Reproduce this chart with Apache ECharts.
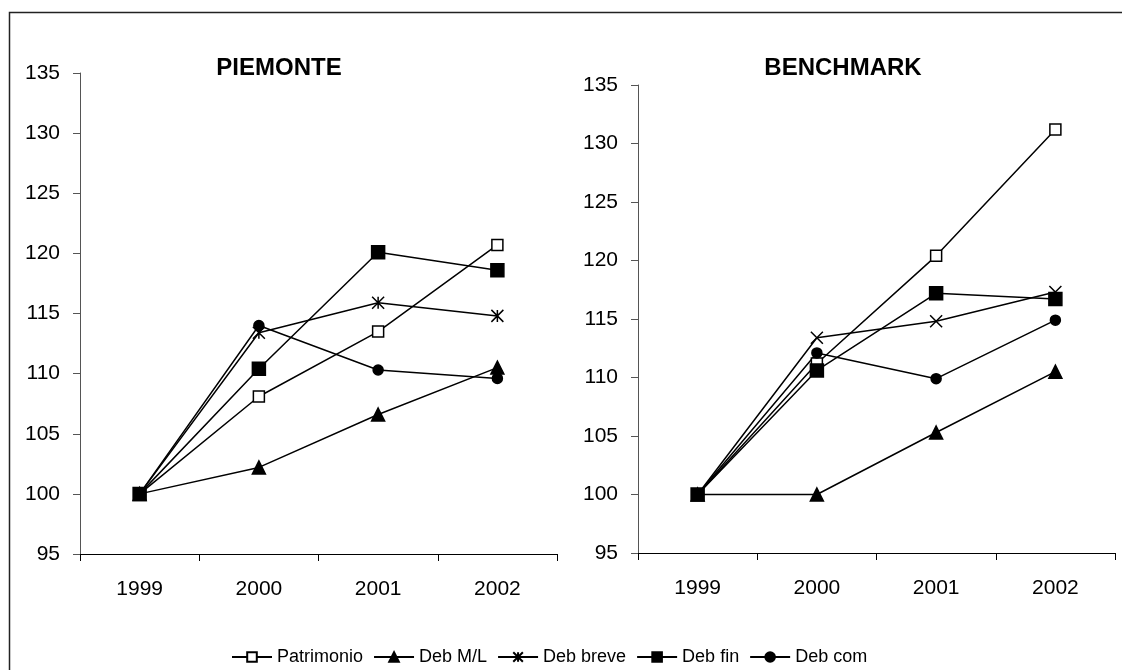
<!DOCTYPE html>
<html>
<head>
<meta charset="utf-8">
<title>Piemonte vs Benchmark</title>
<script src="https://cdn.jsdelivr.net/npm/echarts@6/dist/echarts.min.js"></script>
<style>
  html, body { margin: 0; padding: 0; background: #fff; }
  #chart { width: 1122px; height: 670px; }
</style>
</head>
<body>
<div id="chart"></div>
<script>
// Categories and tick values
const years = ['1999', '2000', '2001', '2002'];
const yTicks = { min: 95, max: 135, step: 5 };

// PIEMONTE (index 1999 = 100)
const piePatrimonio = [100, 108.1, 113.5, 120.7];
const pieDebML      = [100, 102.2, 106.6, 110.5];
const pieDebBreve   = [100, 113.4, 115.9, 114.8];
const pieDebFin     = [100, 110.4, 120.1, 118.6];
const pieDebCom     = [100, 114.0, 110.3, 109.6];

// BENCHMARK (index 1999 = 100)
const benPatrimonio = [100, 111.2, 120.4, 131.2];
const benDebML      = [100, 100.0, 105.3, 110.5];
const benDebBreve   = [100, 113.4, 114.8, 117.3];
const benDebFin     = [100, 110.6, 117.2, 116.7];
const benDebCom     = [100, 112.1, 109.9, 114.9];

const FONT = 'Liberation Sans, Arial, sans-serif';
const ASTERISK = 'path://M0,0L10,10M10,0L0,10M5,0L5,10';
const CROSS = 'path://M0,0L10,10M10,0L0,10';

// marker style per series
const markers = {
  'Patrimonio': { symbol: 'rect', symbolSize: 11, fill: '#fff' },
  'Deb M/L':    { symbol: 'triangle', symbolSize: 13, fill: '#000' },
  'Deb breve':  { symbol: ASTERISK, symbolSize: 12, fill: '#000' },
  'Deb fin':    { symbol: 'rect', symbolSize: 13, fill: '#000' },
  'Deb com':    { symbol: 'circle', symbolSize: 10, fill: '#000' }
};

function makeSeries(name, data, idx, overrideSymbol) {
  const m = markers[name];
  return {
    name: name,
    type: 'line',
    xAxisIndex: idx,
    yAxisIndex: idx,
    data: data,
    symbol: overrideSymbol || m.symbol,
    symbolSize: m.symbolSize,
    showAllSymbol: true,
    lineStyle: { color: '#000', width: 1.5 },
    itemStyle: { color: m.fill, borderColor: '#000', borderWidth: 1.5 },
    emphasis: { disabled: true },
    animation: false
  };
}

function xAxis(idx) {
  return {
    type: 'category',
    gridIndex: idx,
    data: years,
    boundaryGap: true,
    axisLine: { lineStyle: { color: '#000', width: 1 } },
    axisTick: { show: true, length: 7, lineStyle: { color: '#000' } },
    axisLabel: { color: '#000', fontFamily: FONT, fontSize: 21, margin: 25 }
  };
}

function yAxis(idx) {
  return {
    type: 'value',
    gridIndex: idx,
    min: yTicks.min,
    max: yTicks.max,
    interval: yTicks.step,
    axisLine: { show: true, lineStyle: { color: '#555', width: 1 } },
    axisTick: { show: true, length: 7, lineStyle: { color: '#555' } },
    splitLine: { show: false },
    axisLabel: { color: '#000', fontFamily: FONT, fontSize: 21, margin: 20 }
  };
}

const chart = echarts.init(document.getElementById('chart'), null, { renderer: 'canvas' });

const option = {
  backgroundColor: '#fff',
  animation: false,
  grid: [
    { left: 80, top: 73, width: 477, height: 481 },
    { left: 638, top: 85, width: 477, height: 468 }
  ],
  xAxis: [xAxis(0), xAxis(1)],
  yAxis: [yAxis(0), yAxis(1)],
  legend: {
    data: ['Patrimonio', 'Deb M/L', 'Deb breve', 'Deb fin', 'Deb com'],
    left: 226,
    top: 643,
    itemWidth: 40,
    itemHeight: 12,
    itemGap: 10,
    selectedMode: false,
    textStyle: { color: '#000', fontFamily: FONT, fontSize: 18 }
  },
  graphic: [
    {
      type: 'rect', silent: true, z: -1,
      shape: { x: 9.5, y: 12.5, width: 1200, height: 700 },
      style: { fill: 'none', stroke: '#222', lineWidth: 1.5 }
    },
    {
      type: 'text', x: 279, y: 56,
      style: { text: 'PIEMONTE', fill: '#000', font: 'bold 24px ' + FONT, textAlign: 'center' }
    },
    {
      type: 'text', x: 843, y: 56,
      style: { text: 'BENCHMARK', fill: '#000', font: 'bold 24px ' + FONT, textAlign: 'center' }
    }
  ],
  series: [
    makeSeries('Patrimonio', piePatrimonio, 0),
    makeSeries('Deb M/L', pieDebML, 0),
    makeSeries('Deb breve', pieDebBreve, 0),
    makeSeries('Deb fin', pieDebFin, 0),
    makeSeries('Deb com', pieDebCom, 0),
    makeSeries('Patrimonio', benPatrimonio, 1),
    makeSeries('Deb M/L', benDebML, 1),
    makeSeries('Deb breve', benDebBreve, 1, CROSS),
    makeSeries('Deb fin', benDebFin, 1),
    makeSeries('Deb com', benDebCom, 1)
  ]
};

chart.setOption(option);
</script>
</body>
</html>
